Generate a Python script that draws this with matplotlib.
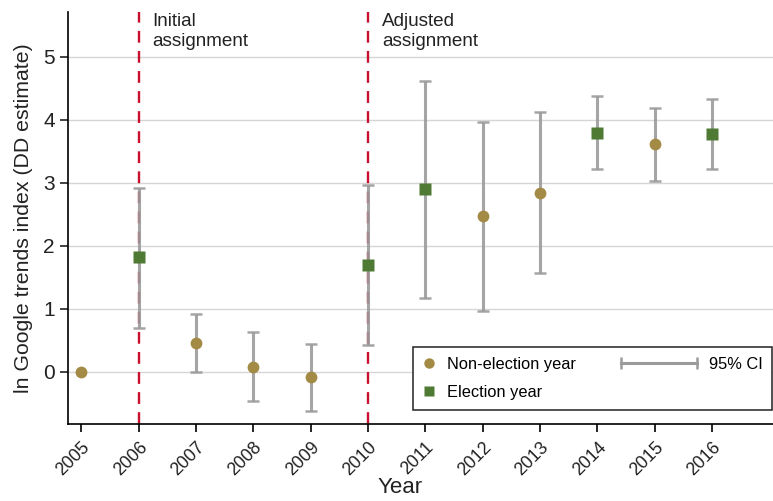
"""DD estimates of ln Google trends index by year, with 95% CIs.
Output: out.png
"""

import matplotlib.pyplot as plt
from matplotlib.legend_handler import HandlerBase
from matplotlib.lines import Line2D
from matplotlib.transforms import ScaledTranslation

plt.rcParams['font.family'] = ['Liberation Sans', 'DejaVu Sans']

YEARS = [2005, 2006, 2007, 2008, 2009, 2010, 2011, 2012, 2013, 2014, 2015, 2016]
ELECTION = [False, True, False, False, False, True, True, False, False, True, False, True]
ESTIMATE = [0.00, 1.82, 0.46, 0.08, -0.09, 1.70, 2.90, 2.47, 2.84, 3.79, 3.61, 3.77]
CI_LOW = [None, 0.70, 0.00, -0.46, -0.62, 0.43, 1.17, 0.96, 1.57, 3.21, 3.02, 3.22]
CI_HIGH = [None, 2.92, 0.92, 0.63, 0.44, 2.96, 4.62, 3.97, 4.12, 4.38, 4.19, 4.33]
ASSIGNMENTS = [(2006, 'Initial\nassignment'), (2010, 'Adjusted\nassignment')]

C_NONELECT = '#a38a45'
C_ELECT = '#4f7a33'
C_CI = '#9b9b9b'
C_RED = '#c8102e'
C_TEXT = '#222222'


class WideCIHandler(HandlerBase):
    """Draws a horizontal capped bar that reaches left into the column gap."""

    def create_artists(self, legend, orig, xdescent, ydescent, width, height,
                       fontsize, trans):
        span = 55
        y = height / 2 - ydescent
        x0, x1 = width - xdescent - span, width - xdescent
        bar = Line2D([x0, x1], [y, y], color=C_CI, lw=2.2)
        caps = Line2D([x0, x1], [y, y], ls='', marker='|', ms=8, mew=1.8,
                      color=C_CI)
        for a in (bar, caps):
            a.set_transform(trans)
        return [bar, caps]


def main():
    fig = plt.figure(figsize=(7.73, 5.01), dpi=100)
    ax = fig.add_axes([0.088, 0.154, 0.912, 0.822])

    for yr, txt in ASSIGNMENTS:
        ax.axvline(yr, color=C_RED, lw=1.7, ls=(0, (5, 3.5)), zorder=2)
        ax.text(yr + 0.24, 5.69, txt, fontsize=13.6, va='top', ha='left',
                color=C_TEXT, linespacing=1.22)

    for yr, est, lo, hi in zip(YEARS, ESTIMATE, CI_LOW, CI_HIGH):
        if lo is None:
            continue
        ax.errorbar([yr], [est], yerr=[[est - lo], [hi - est]], fmt='none',
                    ecolor=C_CI, elinewidth=2.2, capsize=4, capthick=1.8,
                    alpha=0.9, zorder=3)

    non = [(y, e) for y, e, el in zip(YEARS, ESTIMATE, ELECTION) if not el]
    ele = [(y, e) for y, e, el in zip(YEARS, ESTIMATE, ELECTION) if el]
    ax.plot([p[0] for p in non], [p[1] for p in non], 'o', color=C_NONELECT,
            ms=8.5, mec='none', zorder=4)
    ax.plot([p[0] for p in ele], [p[1] for p in ele], 's', color=C_ELECT,
            ms=8, mec='none', zorder=4)

    ax.set_xlim(2004.77, 2017.06)
    ax.set_ylim(-0.83, 5.71)
    ax.set_xticks(YEARS)
    ax.set_xticklabels([str(y) for y in YEARS], rotation=45, ha='right',
                       rotation_mode='anchor', fontsize=12.8, color=C_TEXT)
    shift = ScaledTranslation(6 / 72, 0, fig.dpi_scale_trans)
    for lab in ax.get_xticklabels():
        lab.set_transform(lab.get_transform() + shift)
    ax.set_yticks(range(0, 6))
    ax.tick_params(axis='y', labelsize=15, colors=C_TEXT, length=6,
                   width=1.2)
    ax.tick_params(axis='x', length=6, width=1.2, pad=5)
    ax.grid(axis='y', color='#d6d6d6', lw=1.0, zorder=0)
    ax.set_axisbelow(True)
    for side in ('top', 'right'):
        ax.spines[side].set_visible(False)
    for side in ('left', 'bottom'):
        ax.spines[side].set_linewidth(1.2)
    ax.set_ylabel('ln Google trends index (DD estimate)', fontsize=15.3,
                  color=C_TEXT, labelpad=7)
    ax.set_xlabel('Year', fontsize=16, color=C_TEXT)
    ax.xaxis.set_label_coords(0.471, -0.128)

    h_non = Line2D([], [], ls='', marker='o', color=C_NONELECT, ms=7.5,
                   mec='none')
    h_ele = Line2D([], [], ls='', marker='s', color=C_ELECT, ms=7, mec='none')
    h_ci = Line2D([], [], color=C_CI)
    h_blank = Line2D([], [], ls='', marker='')
    leg = ax.legend([h_non, h_ele, h_ci, h_blank],
                    ['Non-election year', 'Election year', '95% CI', ''],
                    ncol=2, loc='lower right', bbox_to_anchor=(0.999, 0.034),
                    borderaxespad=0, fontsize=11.8, handlelength=0.8,
                    handletextpad=0.7, columnspacing=6.6, labelspacing=0.8,
                    borderpad=0.6, fancybox=False, edgecolor=C_TEXT,
                    framealpha=1, handler_map={h_ci: WideCIHandler()})
    leg.get_frame().set_linewidth(1.1)

    fig.savefig('out.png', dpi=100)
    plt.close(fig)


if __name__ == '__main__':
    main()
